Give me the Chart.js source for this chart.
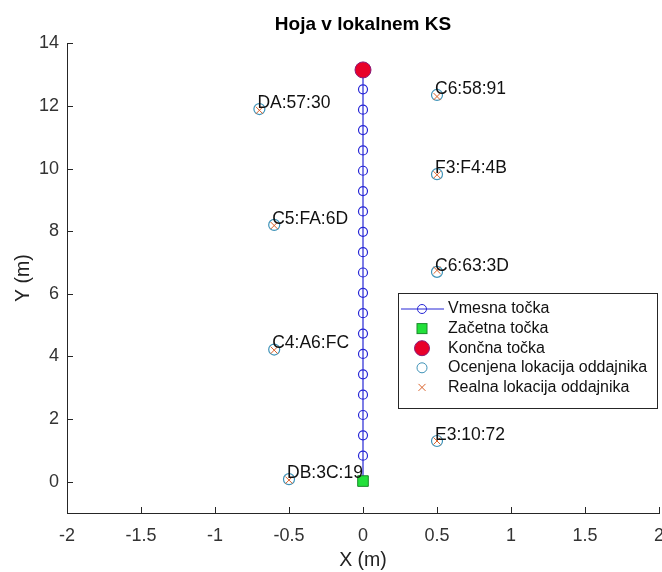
<!DOCTYPE html>
<html>
<head>
<meta charset="utf-8">
<script src="https://cdn.jsdelivr.net/npm/chart.js@4/dist/chart.umd.min.js"></script>
<style>
  body { margin: 0; background: #fff; }
  #wrap { width: 662px; height: 572px; }
</style>
</head>
<body>
<div id="wrap"><canvas id="plot" width="662" height="572"></canvas></div>
<script>
// Pot (vmesne točke), začetek in konec
const pathX = [0, 0, 0, 0, 0, 0, 0, 0, 0, 0, 0, 0, 0, 0, 0, 0, 0, 0, 0, 0, 0];
const pathY = [0, 0.83, 1.48, 2.13, 2.78, 3.43, 4.08, 4.73, 5.38, 6.03, 6.68,
               7.33, 7.98, 8.63, 9.28, 9.93, 10.58, 11.23, 11.88, 12.53, 13.15];
const startX = [0], startY = [0.02];
const endX = [0], endY = [13.15];

// Oddajniki
const names = ['DA:57:30', 'C6:58:91', 'F3:F4:4B', 'C5:FA:6D', 'C6:63:3D', 'C4:A6:FC', 'E3:10:72', 'DB:3C:19'];
const estX  = [-0.70, 0.50, 0.50, -0.60, 0.50, -0.60, 0.50, -0.50];
const estY  = [11.90, 12.35, 9.82, 8.20, 6.70, 4.22, 1.30, 0.08];
const realX = [-0.70, 0.50, 0.50, -0.60, 0.50, -0.60, 0.50, -0.50];
const realY = [11.86, 12.30, 9.80, 8.18, 6.75, 4.20, 1.30, 0.05];

const xTicks = [-2, -1.5, -1, -0.5, 0, 0.5, 1, 1.5, 2];
const yTicks = [0, 2, 4, 6, 8, 10, 12, 14];
const seriesNames = ['Vmesna točka', 'Začetna točka', 'Končna točka', 'Ocenjena lokacija oddajnika', 'Realna lokacija oddajnika'];

const FONT = '"Liberation Sans", Arial, Helvetica, sans-serif';
const BLUE = '#2727d6';
const CYAN = '#3f93b8';
const ORANGE = '#d9622b';
const AXIS = '#262626';

const toPts = (xs, ys) => xs.map((v, i) => ({ x: v, y: ys[i] }));

// notranje oznake na oseh (kot v MATLAB-u)
const innerTicks = {
    id: 'innerTicks',
    afterDraw(chart) {
        const { ctx, chartArea: a, scales: { x, y } } = chart;
        ctx.save();
        ctx.strokeStyle = AXIS;
        ctx.lineWidth = 1;
        ctx.beginPath();
        xTicks.forEach(v => {
            const px = Math.round(x.getPixelForValue(v)) + 0.5;
            ctx.moveTo(px, a.bottom);
            ctx.lineTo(px, a.bottom - 6);
        });
        yTicks.forEach(v => {
            const py = Math.round(y.getPixelForValue(v)) + 0.5;
            ctx.moveTo(a.left, py);
            ctx.lineTo(a.left + 6, py);
        });
        ctx.stroke();
        ctx.restore();
    }
};

// imena oddajnikov
const pointLabels = {
    id: 'pointLabels',
    afterDatasetsDraw(chart) {
        const { ctx, scales: { x, y } } = chart;
        ctx.save();
        ctx.font = '17.5px ' + FONT;
        ctx.fillStyle = '#111';
        ctx.textAlign = 'left';
        ctx.textBaseline = 'middle';
        names.forEach((n, i) => {
            ctx.fillText(n, x.getPixelForValue(estX[i]) - 2, y.getPixelForValue(estY[i]) - 6);
        });
        ctx.restore();
    }
};

// legenda znotraj grafa
const boxLegend = {
    id: 'boxLegend',
    afterDraw(chart) {
        const { ctx, chartArea: a } = chart;
        const w = 259, h = 115;
        const left = a.right - w - 2, top = 293;
        ctx.save();
        ctx.fillStyle = '#fff';
        ctx.fillRect(left, top, w, h);
        ctx.strokeStyle = AXIS;
        ctx.lineWidth = 1;
        ctx.strokeRect(left + 0.5, top + 0.5, w, h);

        const mx = left + 24;
        ctx.font = '16px ' + FONT;
        ctx.textBaseline = 'middle';
        seriesNames.forEach((name, i) => {
            const cy = top + 16 + i * 19.6;
            ctx.lineWidth = 1;
            if (i === 0) {
                ctx.strokeStyle = BLUE;
                ctx.beginPath();
                ctx.moveTo(left + 3, cy); ctx.lineTo(left + 46, cy);
                ctx.stroke();
                ctx.beginPath();
                ctx.arc(mx, cy, 4.5, 0, Math.PI * 2);
                ctx.stroke();
            } else if (i === 1) {
                ctx.fillStyle = '#22e03a';
                ctx.fillRect(mx - 5, cy - 5, 10, 10);
                ctx.strokeStyle = '#1a8a2a';
                ctx.strokeRect(mx - 5, cy - 5, 10, 10);
            } else if (i === 2) {
                ctx.fillStyle = '#e8002a';
                ctx.strokeStyle = '#8a1a78';
                ctx.beginPath();
                ctx.arc(mx, cy, 7.5, 0, Math.PI * 2);
                ctx.fill(); ctx.stroke();
            } else if (i === 3) {
                ctx.strokeStyle = CYAN;
                ctx.beginPath();
                ctx.arc(mx, cy, 5, 0, Math.PI * 2);
                ctx.stroke();
            } else {
                ctx.strokeStyle = ORANGE;
                ctx.beginPath();
                ctx.moveTo(mx - 3.5, cy - 3.5); ctx.lineTo(mx + 3.5, cy + 3.5);
                ctx.moveTo(mx + 3.5, cy - 3.5); ctx.lineTo(mx - 3.5, cy + 3.5);
                ctx.stroke();
            }
            ctx.fillStyle = '#111';
            ctx.fillText(name, left + 50, cy);
        });
        ctx.restore();
    }
};

const lastIdx = pathY.length - 1;

new Chart(document.getElementById('plot'), {
    type: 'scatter',
    data: {
        datasets: [
            {
                label: seriesNames[0],
                data: toPts(pathX, pathY),
                showLine: true,
                borderColor: BLUE,
                borderWidth: 1.2,
                pointStyle: 'circle',
                pointRadius: c => (c.dataIndex === 0 || c.dataIndex === lastIdx) ? 0 : 4.5,
                pointBorderColor: BLUE,
                pointBorderWidth: 1.2,
                pointBackgroundColor: 'rgba(0,0,0,0)',
                order: 5
            },
            {
                label: seriesNames[1],
                data: toPts(startX, startY),
                pointStyle: 'rect',
                pointRadius: 7.5,
                pointBackgroundColor: '#22e03a',
                pointBorderColor: '#1a8a2a',
                pointBorderWidth: 1,
                order: 1
            },
            {
                label: seriesNames[2],
                data: toPts(endX, endY),
                pointStyle: 'circle',
                pointRadius: 8,
                pointBackgroundColor: '#e8002a',
                pointBorderColor: '#8a1a78',
                pointBorderWidth: 1,
                order: 2
            },
            {
                label: seriesNames[3],
                data: toPts(estX, estY),
                pointStyle: 'circle',
                pointRadius: 5.5,
                pointBackgroundColor: 'rgba(0,0,0,0)',
                pointBorderColor: CYAN,
                pointBorderWidth: 1.2,
                order: 4
            },
            {
                label: seriesNames[4],
                data: toPts(realX, realY),
                pointStyle: 'crossRot',
                pointRadius: 5,
                pointBorderColor: ORANGE,
                pointBorderWidth: 1,
                order: 3
            }
        ]
    },
    options: {
        responsive: false,
        animation: false,
        devicePixelRatio: 1,
        events: [],
        layout: { padding: { left: 0, top: 0, bottom: 0, right: 3 }, autoPadding: false },
        plugins: {
            legend: { display: false },
            tooltip: { enabled: false },
            title: {
                display: true,
                fullSize: false,
                text: 'Hoja v lokalnem KS',
                color: '#000',
                font: { family: FONT, size: 19, weight: 'bold' },
                padding: { top: 13.5, bottom: 7 }
            }
        },
        scales: {
            x: {
                type: 'linear',
                min: -2,
                max: 2,
                afterBuildTicks: s => { s.ticks = xTicks.map(v => ({ value: v })); },
                afterFit: s => { s.height = 59; s.paddingLeft = 0; s.paddingRight = 0; },
                grid: { display: false, drawTicks: false },
                border: { display: true, color: AXIS, width: 1 },
                ticks: {
                    color: '#333',
                    padding: 12,
                    maxRotation: 0,
                    autoSkip: false,
                    font: { family: FONT, size: 18 },
                    callback: v => String(v)
                },
                title: {
                    display: true,
                    text: 'X (m)',
                    color: '#222',
                    font: { family: FONT, size: 19.5 },
                    padding: { top: 0, bottom: 0 }
                }
            },
            y: {
                type: 'linear',
                min: -1,
                max: 14,
                afterBuildTicks: s => { s.ticks = yTicks.map(v => ({ value: v })); },
                afterFit: s => { s.width = 67; },
                grid: { display: false, drawTicks: false },
                border: { display: true, color: AXIS, width: 1 },
                ticks: {
                    color: '#333',
                    padding: 8,
                    autoSkip: false,
                    font: { family: FONT, size: 18 },
                    callback: v => String(v)
                },
                title: {
                    display: true,
                    text: 'Y (m)',
                    color: '#222',
                    font: { family: FONT, size: 19.5 },
                    padding: { top: 12, bottom: 0 }
                }
            }
        }
    },
    plugins: [innerTicks, pointLabels, boxLegend]
});
</script>
</body>
</html>
